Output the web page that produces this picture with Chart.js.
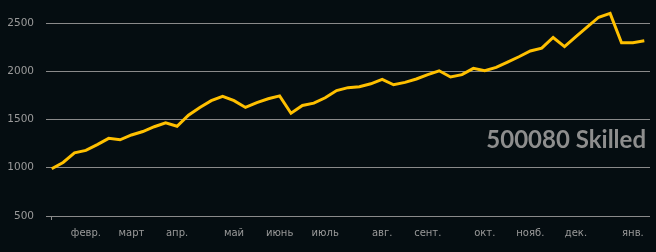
<!DOCTYPE html>
<html>
<head>
<meta charset="utf-8">
<script src="https://cdn.jsdelivr.net/npm/chart.js@4/dist/chart.umd.min.js"></script>
<style>
    html, body { margin: 0; padding: 0; background: #050d11; }
    #wrap { width: 656px; height: 252px; position: relative; }
</style>
</head>
<body>
<div id="wrap"><canvas id="myChart"></canvas></div>
<script>
// weekly values, one per week of the year
const weeklyValues = [
    990, 1055, 1155, 1180, 1240, 1305, 1290, 1340, 1375, 1425,
    1465, 1430, 1545, 1625, 1695, 1740, 1695, 1625, 1675, 1715,
    1745, 1565, 1645, 1670, 1725, 1800, 1830, 1840, 1870, 1915,
    1860, 1885, 1920, 1965, 2005, 1940, 1965, 2030, 2005, 2040,
    2095, 2150, 2210, 2240, 2350, 2255, 2360, 2460, 2560, 2600,
    2295, 2295, 2315
];
// month tick labels and the week they sit on
const monthNames = ['февр.', 'март', 'апр.', 'май', 'июнь', 'июль', 'авг.', 'сент.', 'окт.', 'нояб.', 'дек.', 'янв.'];
const monthWeeks = [3, 7, 11, 16, 20, 24, 29, 33, 38, 42, 46, 51];
const yTicks = [500, 1000, 1500, 2000, 2500];
const watermark = '500080 Skilled';

document.addEventListener('DOMContentLoaded', function () {
    const labels = weeklyValues.map((v, i) => {
        const k = monthWeeks.indexOf(i);
        return k >= 0 ? monthNames[k] : '';
    });

    // draws the big grey caption inside the plot
    const captionPlugin = {
        id: 'caption',
        afterDatasetsDraw(chart) {
            const ctx = chart.ctx;
            const area = chart.chartArea;
            ctx.save();
            ctx.font = 'bold 24px Lato';
            ctx.fillStyle = '#8e8e8e';
            ctx.textAlign = 'right';
            ctx.textBaseline = 'alphabetic';
            ctx.fillText(watermark, area.right - 4, 148);
            ctx.restore();
        }
    };

    const ctx = document.getElementById('myChart').getContext('2d');
    new Chart(ctx, {
        type: 'line',
        data: {
            labels: labels,
            datasets: [{
                data: weeklyValues,
                borderColor: '#ffc000',
                borderWidth: 3,
                pointRadius: 0,
                fill: false,
                tension: 0,
                clip: false
            }]
        },
        options: {
            responsive: true,
            maintainAspectRatio: false,
            animation: false,
            layout: { padding: { top: 23, right: 6, left: 0, bottom: 0 } },
            plugins: {
                legend: { display: false },
                tooltip: { enabled: false }
            },
            scales: {
                x: {
                    type: 'category',
                    offset: true,
                    border: { display: false },
                    grid: {
                        drawOnChartArea: false,
                        drawTicks: true,
                        tickLength: 4,
                        color: ctx => ctx.index === 0 ? '#8c8c8c' : 'transparent'
                    },
                    ticks: {
                        autoSkip: false,
                        maxRotation: 0,
                        padding: 7,
                        color: '#9a9a9a',
                        font: { family: 'DejaVu Sans', size: 10 }
                    },
                    afterFit: scale => { scale.height = 36; }
                },
                y: {
                    min: yTicks[0],
                    max: yTicks[yTicks.length - 1],
                    border: { display: false },
                    grid: {
                        color: '#8a8a8a',
                        lineWidth: 1,
                        drawTicks: false
                    },
                    afterBuildTicks: scale => {
                        scale.ticks = yTicks.map(v => ({ value: v }));
                    },
                    ticks: {
                        padding: 12,
                        color: '#9a9a9a',
                        font: { family: 'DejaVu Sans', size: 10.5 },
                        callback: value => String(value)
                    },
                    afterFit: scale => { scale.width = 46; }
                }
            }
        },
        plugins: [captionPlugin]
    });
});
</script>
</body>
</html>
